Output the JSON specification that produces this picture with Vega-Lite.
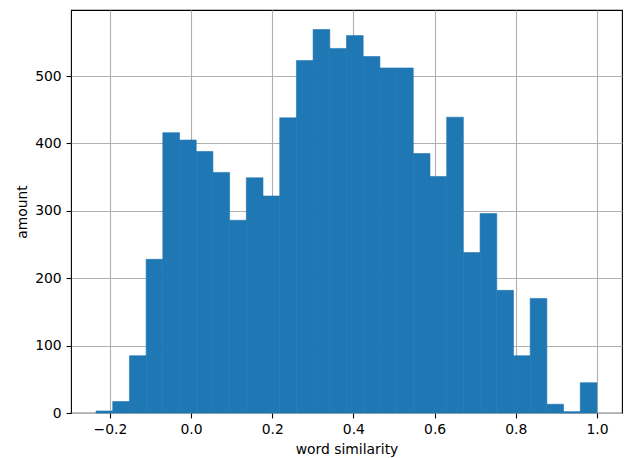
{
  "$schema": "https://vega.github.io/schema/vega-lite/v6.json",
  "width": 551,
  "height": 403,
  "autosize": {"type": "none"},
  "padding": {"left": 71, "top": 10, "right": 4, "bottom": 45},
  "background": "white",
  "config": {
    "font": "DejaVu Sans",
    "view": {"stroke": "black", "strokeWidth": 1.1},
    "axis": {
      "zindex": 1,
      "grid": true,
      "gridColor": "#b0b0b0",
      "gridWidth": 1.1,
      "gridOpacity": 1,
      "domain": false,
      "tickColor": "black",
      "tickSize": 4.9,
      "tickWidth": 1.1,
      "labelPadding": 4.9,
      "labelFont": "DejaVu Sans",
      "labelFontSize": 13.9,
      "labelColor": "black",
      "titleFont": "DejaVu Sans",
      "titleFontSize": 13.9,
      "titleFontWeight": "normal",
      "titleColor": "black",
      "titlePadding": 5.5
    }
  },
  "data": {
    "values": [
      {"bin_start": -0.2340, "bin_end": -0.1929, "count": 3},
      {"bin_start": -0.1929, "bin_end": -0.1517, "count": 17},
      {"bin_start": -0.1517, "bin_end": -0.1106, "count": 85},
      {"bin_start": -0.1106, "bin_end": -0.0695, "count": 228},
      {"bin_start": -0.0695, "bin_end": -0.0283, "count": 416},
      {"bin_start": -0.0283, "bin_end": 0.0128, "count": 405},
      {"bin_start": 0.0128, "bin_end": 0.0539, "count": 388},
      {"bin_start": 0.0539, "bin_end": 0.0951, "count": 357},
      {"bin_start": 0.0951, "bin_end": 0.1362, "count": 286},
      {"bin_start": 0.1362, "bin_end": 0.1773, "count": 349},
      {"bin_start": 0.1773, "bin_end": 0.2185, "count": 322},
      {"bin_start": 0.2185, "bin_end": 0.2596, "count": 438},
      {"bin_start": 0.2596, "bin_end": 0.3007, "count": 523},
      {"bin_start": 0.3007, "bin_end": 0.3419, "count": 569},
      {"bin_start": 0.3419, "bin_end": 0.3830, "count": 541},
      {"bin_start": 0.3830, "bin_end": 0.4241, "count": 560},
      {"bin_start": 0.4241, "bin_end": 0.4653, "count": 529},
      {"bin_start": 0.4653, "bin_end": 0.5064, "count": 512},
      {"bin_start": 0.5064, "bin_end": 0.5475, "count": 512},
      {"bin_start": 0.5475, "bin_end": 0.5887, "count": 385},
      {"bin_start": 0.5887, "bin_end": 0.6298, "count": 351},
      {"bin_start": 0.6298, "bin_end": 0.6709, "count": 439},
      {"bin_start": 0.6709, "bin_end": 0.7121, "count": 238},
      {"bin_start": 0.7121, "bin_end": 0.7532, "count": 296},
      {"bin_start": 0.7532, "bin_end": 0.7943, "count": 182},
      {"bin_start": 0.7943, "bin_end": 0.8355, "count": 85},
      {"bin_start": 0.8355, "bin_end": 0.8766, "count": 170},
      {"bin_start": 0.8766, "bin_end": 0.9177, "count": 13},
      {"bin_start": 0.9177, "bin_end": 0.9589, "count": 2},
      {"bin_start": 0.9589, "bin_end": 1.0000, "count": 45}
    ]
  },
  "mark": {"type": "bar", "color": "#1f77b4", "stroke": "#1f77b4", "strokeWidth": 0.6, "opacity": 1},
  "encoding": {
    "x": {
      "field": "bin_start",
      "type": "quantitative",
      "scale": {"domain": [-0.2957, 1.0617], "nice": false, "zero": false},
      "axis": {"title": "word similarity", "values": [-0.2, 0, 0.2, 0.4, 0.6, 0.8, 1.0], "format": ".1f"}
    },
    "x2": {"field": "bin_end"},
    "y": {
      "field": "count",
      "type": "quantitative",
      "scale": {"domain": [0, 598], "nice": false},
      "axis": {"title": "amount", "values": [0, 100, 200, 300, 400, 500], "format": "d"}
    },
    "y2": {"datum": 0}
  }
}
